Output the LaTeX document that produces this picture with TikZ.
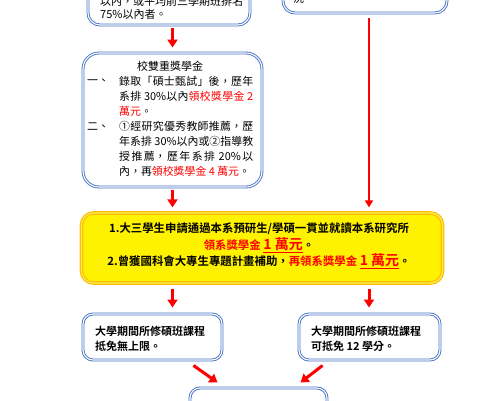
\documentclass[tikz,border=0pt]{standalone}
\usepackage{fontspec}
\setmainfont{Noto Sans CJK TC}[BoldFont={Noto Sans CJK TC Bold}]
\XeTeXlinebreaklocale "zh"
\XeTeXlinebreakskip = 0pt plus 1.5pt
\usetikzlibrary{arrows.meta,calc}
\definecolor{boxblue}{RGB}{68,114,196}
\definecolor{ygold}{RGB}{250,190,0}
\definecolor{ylight}{RGB}{255,236,80}
\newcommand{\rtxt}[1]{\textcolor{red}{#1}}
\begin{document}
\begin{tikzpicture}[x=1pt,y=-1pt,
  bluebox/.style={draw=boxblue, line width=0.9pt, double=white, double distance=1.1pt, rounded corners=#1, inner sep=0pt, fill=white},
  ybox/.style={draw=ygold, line width=1.2pt, double=ylight, double distance=1.2pt, fill=yellow, rounded corners=12pt, inner sep=0pt},
  txt/.style={inner sep=0pt, font=\fontsize{11}{15}\selectfont},
  txtblock/.style={inner sep=0pt, align=justify, text width=134pt, font=\fontsize{10.9}{15}\selectfont},
  btxt/.style={inner sep=0pt, align=left, font=\bfseries\fontsize{11}{14.5}\selectfont},
  ytxt/.style={inner sep=0pt, align=center, font=\bfseries\fontsize{11.4}{16.5}\selectfont},
  rarrow/.style={draw=red, line width=3pt, -{Triangle[width=10pt,length=8pt]}},
  rline/.style={draw=red, line width=2pt, -{Triangle[width=8pt,length=7pt]}}
]
\useasboundingbox (0,0) rectangle (495,400);
\clip (0,0) rectangle (495,400);

% top boxes (cut by the page edge)
\node[bluebox=12pt, minimum width=162pt, minimum height=70pt] (tl) at (169,-10) {};
\node[txt, anchor=west] (tl1) at (100,1) {以內，或平均前三學期班排名};
\node[txt, anchor=west] (tl2) at (100,14) {75\%以內者。};
\node[bluebox=12pt, minimum width=164pt, minimum height=60pt] (tr) at (365,-17) {};
\node[txt, anchor=west] (tr1) at (293,-2) {況};

% middle left box
\node[bluebox=16pt, minimum width=179pt, minimum height=134pt] (ml) at (172.5,120) {};
\node[txt] (mlt) at (170,66) {校雙重獎學金};
\node[txt, anchor=west] (l1) at (87,82) {一、};
\node[txtblock, anchor=north west] (b1) at (119,76) {\makebox[134pt][s]{錄\hfil 取\hfil 「\hfil 碩\hfil 士\hfil 甄\hfil 試\hfil 」\hfil 後\hfil ，\hfil 歷\hfil 年}\linebreak 系排 30\%以內\rtxt{領校獎學金 2}\linebreak \rtxt{萬元}。};
\node[txt, anchor=west] (l2) at (87,127) {二、};
\node[txtblock, anchor=north west] (b2) at (119,121) {①經研究優秀教師推薦，歷\linebreak 年系排 30\%以內或②指導教\linebreak 授推薦，歷年系排 20\%以\linebreak 內，再\rtxt{領校獎學金 4 萬元}。};

% yellow box
\node[ybox, minimum width=361pt, minimum height=70pt] (yb) at (262,248) {};
\node[ytxt] (yt) at (259,246) {1.大三學生申請通過本系預研生/學碩一貫並就讀本系研究所\\\rtxt{領系獎學金 \underline{\fontsize{14}{14}\selectfont 1 萬元}}。\\2.曾獲國科會大專生專題計畫補助，\rtxt{再領系獎學金 \underline{\fontsize{14}{14}\selectfont 1 萬元}}。};

% bottom boxes
\node[bluebox=10pt, minimum width=139pt, minimum height=46pt] (bl) at (152.5,337) {};
\node[btxt, anchor=north west] (blt) at (95,326) {大學期間所修碩班課程\\抵免無上限。};
\node[bluebox=10pt, minimum width=141pt, minimum height=46pt] (br) at (369.5,337) {};
\node[btxt, anchor=north west] (brt) at (311,326) {大學期間所修碩班課程\\可抵免 12 學分。};
\node[bluebox=10pt, minimum width=137pt, minimum height=40pt] (bb) at (258.5,408) {};

% connectors
\coordinate (rx) at (369,0);
\draw[rarrow, shorten <=3pt, shorten >=5pt] (tl.south -| ml.north) -- (ml.north);
\draw[rline, shorten <=5pt, shorten >=5pt] (tr.south -| rx) -- (yb.north -| rx);
\draw[rarrow, shorten <=3pt, shorten >=5pt] (ml.south) -- (yb.north -| ml.south);
\draw[rarrow, shorten <=5pt, shorten >=6pt] (yb.south -| ml.south) -- (bl.north -| ml.south);
\draw[rarrow, shorten <=5pt, shorten >=6pt] (yb.south -| rx) -- (br.north -| rx);
\draw[rarrow] ($(bl.south east)+(-29,5)$) -- ($(bb.north west)+(28,-5)$);
\draw[rarrow] ($(br.south west)+(24,5)$) -- ($(bb.north east)+(-27,-5)$);
\end{tikzpicture}
\end{document}
